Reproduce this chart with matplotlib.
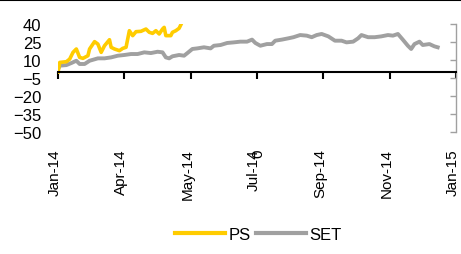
"""PS vs SET relative performance chart, Jan-14 to Jan-15."""

import matplotlib

matplotlib.use("Agg")

import matplotlib.pyplot as plt
import numpy as np
from matplotlib.lines import Line2D
from matplotlib.transforms import blended_transform_factory

DAYS_PER_TICK = 40
X_LABELS = ["Jan-14", "Apr-14", "May-14", "Jul-14", "Sep-14", "Nov-14", "Jan-15"]
Y_TICKS = [-50, -35, -20, -5, 10, 25, 40]

PS_DAY = [0, 1, 5, 7, 9, 11, 13, 15, 18, 19, 22, 24, 26, 28, 31, 32, 34, 37, 39,
          41, 42, 43, 45, 47, 50, 53, 55, 57, 59, 61, 63, 64, 65, 68, 69, 71, 73, 74]
PS = [0, 8.0, 8.6, 10.8, 16.4, 19.2, 12.2, 11.4, 13.6, 19.2, 25.3, 23.3, 16.4, 21.9,
      26.9, 20.6, 19.2, 17.8, 19.7, 20.6, 27.5, 34.4, 30.3, 33.6, 33.9, 35.8, 33.1,
      32.2, 34.4, 31.7, 35.8, 37.2, 30.3, 30.3, 33.1, 34.4, 36.4, 39.2]

SET_DAY = [0, 1, 5, 8, 11, 13, 16, 19, 24, 28, 32, 36, 40, 44, 48, 52, 56, 60, 63,
           65, 67, 69, 73, 76, 78, 81, 84, 88, 92, 94, 98, 102, 106, 110, 114, 117,
           119, 122, 126, 129, 131, 135, 139, 142, 146, 150, 153, 156, 159, 163, 167,
           171, 174, 178, 181, 183, 187, 191, 195, 199, 202, 205, 208, 211, 213, 215,
           218, 220, 224, 227, 229]
SET = [2.5, 5.3, 5.8, 7.5, 9.4, 6.7, 6.7, 9.4, 11.4, 11.4, 12.2, 13.6, 14.2, 15.0,
       15.0, 16.4, 15.8, 16.9, 16.4, 12.2, 11.4, 13.1, 14.2, 13.6, 15.8, 19.2, 19.7,
       20.6, 19.7, 21.9, 22.5, 24.2, 24.7, 25.3, 25.3, 27.0, 24.2, 21.9, 23.3, 23.3,
       26.1, 27.0, 28.1, 29.0, 30.8, 30.3, 29.0, 30.8, 31.7, 29.7, 26.1, 26.1, 24.7,
       25.3, 28.1, 30.8, 29.0, 29.0, 29.7, 30.8, 30.3, 31.7, 26.9, 21.9, 19.2, 23.3,
       25.3, 22.5, 23.3, 21.4, 20.6]

PS_COLOR = "#FFCC00"
SET_COLOR = "#A0A0A0"

plt.rcParams["font.family"] = ["Liberation Sans", "DejaVu Sans"]

fig = plt.figure(figsize=(4.61, 2.55), dpi=100)
ax = fig.add_axes([0.126, 0.478, 0.863, 0.424])

ax.plot(SET_DAY, SET, color=SET_COLOR, lw=2.8, solid_joinstyle="round")
ax.plot(PS_DAY, PS, color=PS_COLOR, lw=2.6, solid_joinstyle="round")

tick_pos = np.arange(len(X_LABELS)) * DAYS_PER_TICK
ax.set_xlim(tick_pos[0], tick_pos[-1])
ax.set_ylim(Y_TICKS[0], Y_TICKS[-1])
ax.set_xticks(tick_pos)
ax.set_yticks(Y_TICKS)

ax.spines["top"].set_visible(False)
ax.spines["left"].set_visible(False)
ax.spines["bottom"].set_position(("data", 0))
ax.spines["bottom"].set_linewidth(1.5)
ax.spines["right"].set_color("#A0A0A0")
ax.spines["right"].set_linewidth(1.0)

ax.tick_params(axis="x", direction="out", length=5, width=1.5, labelbottom=False)
ax.tick_params(axis="y", left=False, right=True, direction="in", length=4,
               width=1.0, color="#A0A0A0", labelsize=12, pad=12)

trans = blended_transform_factory(ax.transData, ax.transAxes)
for pos, label in zip(tick_pos, X_LABELS):
    ax.text(pos - 2, -0.15, label, transform=trans, rotation=90, ha="center",
            va="top", fontsize=11)
# stray axis label overlapping Jul-14 in the original
ax.text(tick_pos[3] + 1, -0.15, "0", transform=trans, rotation=90, ha="center",
        va="top", fontsize=11)

handles = [Line2D([], [], color=PS_COLOR, lw=3), Line2D([], [], color=SET_COLOR, lw=3)]
fig.legend(handles, ["PS", "SET"], loc="lower center", bbox_to_anchor=(0.56, -0.01),
           ncol=2, frameon=False, fontsize=12, handlelength=3.0, handletextpad=0.2,
           columnspacing=0.3)

fig.add_artist(Line2D([0, 1], [0.997, 0.997], color="black", lw=1.5))

fig.savefig("out.png", dpi=100)
